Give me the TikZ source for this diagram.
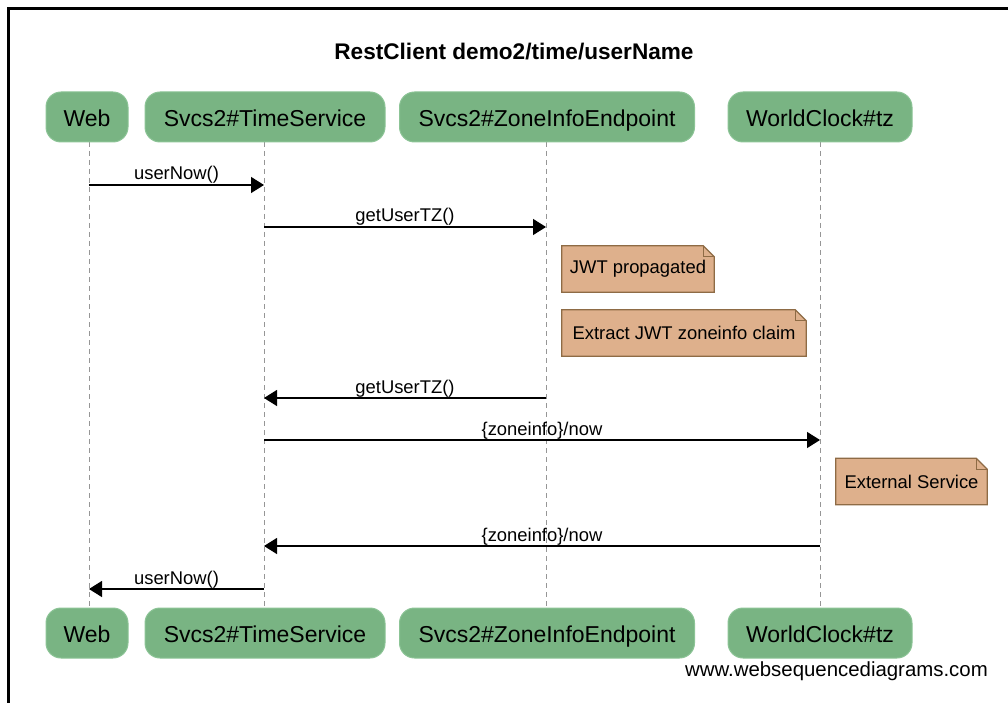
\documentclass[tikz,border=0pt]{standalone}
\usepackage{fontspec}
\setmainfont{Liberation Sans}
\usetikzlibrary{arrows.meta,backgrounds}
\definecolor{partfill}{RGB}{121,180,131}
\definecolor{partline}{RGB}{140,196,150}
\definecolor{notefill}{RGB}{222,176,140}
\definecolor{noteline}{RGB}{142,107,69}
\definecolor{lifegray}{RGB}{150,150,150}
\tikzset{
  part/.style={draw=partline, line width=1pt, fill=partfill, rounded corners=15pt,
    minimum height=50pt, inner xsep=0pt, inner ysep=0pt, text height=20.5pt, text depth=2pt,
    font=\fontsize{23}{23}\selectfont},
  life/.style={draw=lifegray, line width=0.9pt, dash pattern=on 5pt off 4pt},
  msg/.style={line width=1.3pt, -{Triangle[length=13pt,width=16pt]}},
  msglabel/.style={anchor=base, yshift=5pt, inner sep=0pt, font=\fontsize{18.4}{18.4}\selectfont},
  notebox/.style={inner sep=0pt, font=\fontsize{18.4}{18.4}\selectfont},
  noteshape/.style={draw=noteline, fill=notefill, line width=1.2pt},
  frameline/.style={line width=2.6pt, line cap=rect}
}
\begin{document}
\begin{tikzpicture}[x=1pt,y=-1pt]
\useasboundingbox (0,0) rectangle (1008,703);
\begin{scope}[on background layer]
\fill[white] (0,0) rectangle (1008,703);
\end{scope}
% frame
\coordinate (fTL) at (8.5,8.5);
\coordinate (fTR) at (1010,8.5);
\coordinate (fBL) at (8.5,705);
\draw[frameline] (fBL) -- (fTL) -- (fTR);
% title
\node[font=\bfseries\fontsize{22.6}{22.6}\selectfont] (title) at (514,52) {RestClient demo2/time/userName};
% top participants
\node[part, minimum width=82pt] (webT) at (87,117) {Web};
\node[part, minimum width=240pt] (tsT) at (265,117) {Svcs2\#TimeService};
\node[part, minimum width=295pt] (ziT) at (547,117) {Svcs2\#ZoneInfoEndpoint};
\node[part, minimum width=184pt] (wcT) at (820,117) {WorldClock\#tz};
% bottom participants
\node[part, minimum width=82pt] (webB) at (87,633) {Web};
\node[part, minimum width=240pt] (tsB) at (265,633) {Svcs2\#TimeService};
\node[part, minimum width=295pt] (ziB) at (547,633) {Svcs2\#ZoneInfoEndpoint};
\node[part, minimum width=184pt] (wcB) at (820,633) {WorldClock\#tz};
% lifelines
\coordinate (webL1) at (89,142); \coordinate (webL2) at (89,608);
\coordinate (tsL1) at (264,142); \coordinate (tsL2) at (264,608);
\coordinate (ziL1) at (546,142); \coordinate (ziL2) at (546,608);
\coordinate (wcL1) at (820,142); \coordinate (wcL2) at (820,608);
\begin{scope}[on background layer]
\draw[life] (webL1) -- (webL2);
\draw[life] (tsL1) -- (tsL2);
\draw[life] (ziL1) -- (ziL2);
\draw[life] (wcL1) -- (wcL2);
\end{scope}
% message anchor points
\coordinate (m1a) at (89,185);  \coordinate (m1b) at (264,185);
\coordinate (m2a) at (264,227); \coordinate (m2b) at (546,227);
\coordinate (m3a) at (546,398); \coordinate (m3b) at (264,398);
\coordinate (m4a) at (264,440); \coordinate (m4b) at (820,440);
\coordinate (m5a) at (820,546); \coordinate (m5b) at (264,546);
\coordinate (m6a) at (264,589); \coordinate (m6b) at (89,589);
\draw[msg] (m1a) -- (m1b) node[msglabel, midway] {userNow()};
\draw[msg] (m2a) -- (m2b) node[msglabel, midway] {getUserTZ()};
\draw[msg] (m3a) -- (m3b) node[msglabel, midway] {getUserTZ()};
\draw[msg] (m4a) -- (m4b) node[msglabel, midway] {\{zoneinfo\}/now};
\draw[msg] (m5a) -- (m5b) node[msglabel, midway] {\{zoneinfo\}/now};
\draw[msg] (m6a) -- (m6b) node[msglabel, midway] {userNow()};
% notes
\node[notebox, minimum width=152pt, minimum height=46pt] (n1) at (638,269) {JWT propagated};
\node[notebox, minimum width=244pt, minimum height=46pt] (n2) at (684,333) {Extract JWT zoneinfo claim};
\node[notebox, minimum width=151pt, minimum height=46pt] (n3) at (911.5,481.5) {External Service};
\begin{scope}[on background layer]
\foreach \n in {n1,n2,n3}{
  \draw[noteshape, line join=miter] (\n.north west) -- ([xshift=-11pt]\n.north east)
     -- ([yshift=-11pt]\n.north east) -- (\n.south east) -- (\n.south west) -- cycle;
  \draw[draw=noteline, line width=0.8pt] ([xshift=-11pt]\n.north east) -- ([xshift=-11pt,yshift=-11pt]\n.north east)
     -- ([yshift=-11pt]\n.north east);
}
\end{scope}
% watermark
\node[font=\fontsize{20.4}{20.4}\selectfont, anchor=east, inner sep=0pt] (wm) at (988,671) {www.websequencediagrams.com};
\end{tikzpicture}
\end{document}
